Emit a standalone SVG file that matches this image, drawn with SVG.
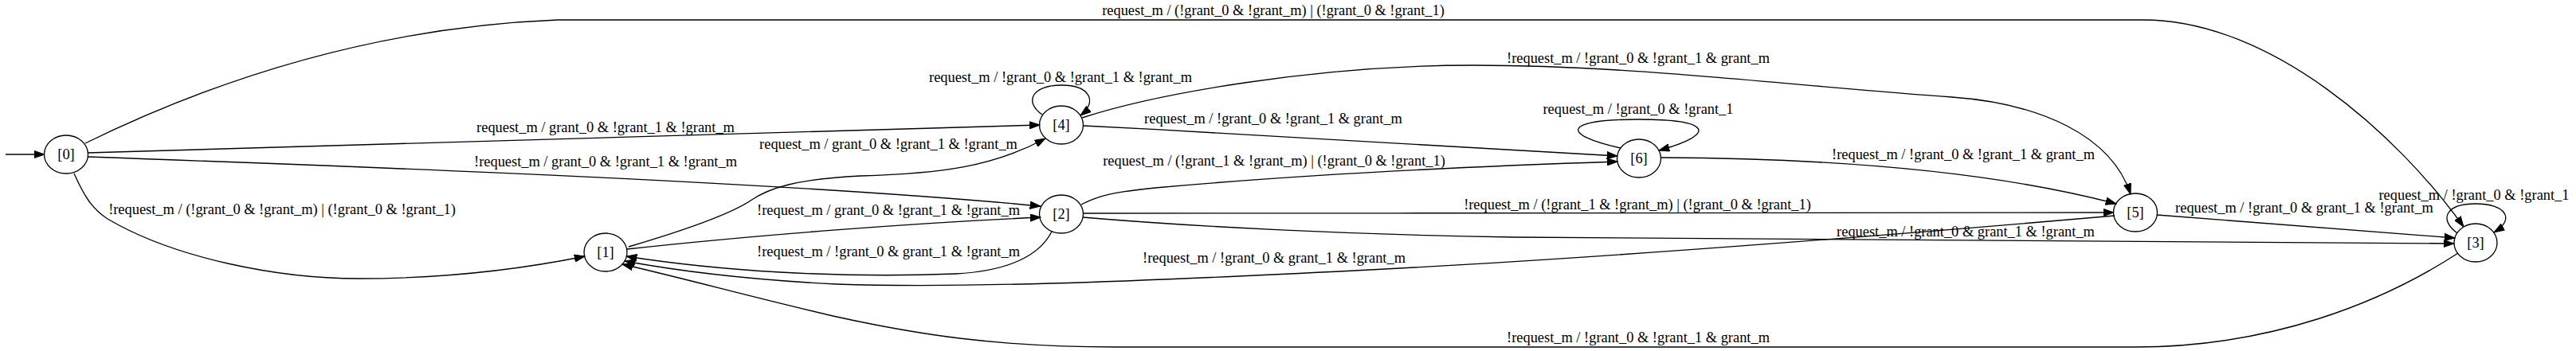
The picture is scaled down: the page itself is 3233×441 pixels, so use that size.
<svg xmlns="http://www.w3.org/2000/svg" width="3233" height="441" viewBox="0 0 3233 441">
<style>
.n ellipse{fill:none;stroke:#000;stroke-width:1.33}
text{font-family:"Liberation Serif","Times New Roman",serif;font-size:18.4px;fill:#000;text-anchor:middle}
.e path{fill:none;stroke:#000;stroke-width:1.33;marker-end:url(#ah)}
</style>
<defs>
<marker id="ah" viewBox="0 0 14 10" refX="13.3" refY="5" markerWidth="14" markerHeight="10" markerUnits="userSpaceOnUse" orient="auto">
<path d="M0,0.33 L13.3,5 L0,9.67 z" fill="#000" stroke="#000" stroke-width="1"/>
</marker>
</defs>
<rect width="3233" height="441" fill="#fff"/>
<g id="connectors" class="e">
<path id="init" d="M7,194 L56,194"/>
<path id="e0-3" d="M107,180 C250,110 450,35 700,25 L2690,25 C2850,25 3010,170 3092,285"/>
<path id="e0-4" d="M110,192 C500,181 900,168 1305,157"/>
<path id="e0-2" d="M110,197 C500,211 1000,230 1306,259"/>
<path id="e0-1" d="M93,218 C105,245 115,262 135,275 C220,325 350,350 450,350 C560,350 660,337 734,322"/>
<path id="e1-4" d="M789,310 C850,292 915,270 942,252 C965,236 1000,225 1080,221 C1180,218 1245,210 1312,174"/>
<path id="e1-2" d="M787,313 C950,295 1150,280 1306,273"/>
<path id="e2-1" d="M1320,291 C1305,320 1270,340 1200,344 C1050,350 900,340 786,322"/>
<path id="e5-1" d="M2654,271 C2400,293 2000,325 1700,340 C1400,355 1200,362 1050,357 C950,352 860,342 784,328"/>
<path id="e3-1" d="M3085,318 C2990,380 2850,436 2680,436 L1400,436 C1250,436 1150,420 1050,398 C950,375 860,350 781,332"/>
<path id="e4-4" d="M1308,144 C1285,128 1295,107 1332,107 C1368,107 1378,128 1356,145"/>
<path id="e4-5" d="M1358,148 C1450,118 1650,82 1850,82 C2050,82 2250,108 2450,122 C2560,130 2650,170 2674,244"/>
<path id="e4-6" d="M1360,158 C1600,170 1850,185 2030,196"/>
<path id="e2-6" d="M1357,257 C1380,245 1400,241 1450,236 C1650,218 1850,209 2030,203"/>
<path id="e6-6" d="M2034,186 C1955,168 1965,150 2056,150 C2147,150 2157,168 2082,189"/>
<path id="e6-5" d="M2085,198 C2300,199 2500,215 2656,256"/>
<path id="e2-5" d="M1360,268 C1800,268 2300,267 2653,267"/>
<path id="e2-3" d="M1359,273 C1500,285 1700,295 1900,298 C2300,304 2700,306 3080,306"/>
<path id="e5-3" d="M2707,270 L3081,299"/>
<path id="e3-3" d="M3084,293 C3060,275 3070,256 3107,256 C3144,256 3158,275 3130,292"/>
</g>
<g id="labels">
<text x="1598" y="19">request_m / (!grant_0 &amp; !grant_m) | (!grant_0 &amp; !grant_1)</text>
<text x="760" y="166">request_m / grant_0 &amp; !grant_1 &amp; !grant_m</text>
<text x="760" y="209">!request_m / grant_0 &amp; !grant_1 &amp; !grant_m</text>
<text x="354" y="269">!request_m / (!grant_0 &amp; !grant_m) | (!grant_0 &amp; !grant_1)</text>
<text x="1115" y="187">request_m / grant_0 &amp; !grant_1 &amp; !grant_m</text>
<text x="1115" y="270">!request_m / grant_0 &amp; !grant_1 &amp; !grant_m</text>
<text x="1115" y="322">!request_m / !grant_0 &amp; grant_1 &amp; !grant_m</text>
<text x="1599" y="330">!request_m / !grant_0 &amp; grant_1 &amp; !grant_m</text>
<text x="2056" y="430">!request_m / !grant_0 &amp; !grant_1 &amp; grant_m</text>
<text x="1331" y="103">request_m / !grant_0 &amp; !grant_1 &amp; !grant_m</text>
<text x="2056" y="79">!request_m / !grant_0 &amp; !grant_1 &amp; grant_m</text>
<text x="1598" y="155">request_m / !grant_0 &amp; !grant_1 &amp; grant_m</text>
<text x="1599" y="208">request_m / (!grant_1 &amp; !grant_m) | (!grant_0 &amp; !grant_1)</text>
<text x="2056" y="143">request_m / !grant_0 &amp; !grant_1</text>
<text x="2464" y="200">!request_m / !grant_0 &amp; !grant_1 &amp; grant_m</text>
<text x="2055" y="263">!request_m / (!grant_1 &amp; !grant_m) | (!grant_0 &amp; !grant_1)</text>
<text x="2467" y="297">request_m / !grant_0 &amp; grant_1 &amp; !grant_m</text>
<text x="2892" y="267">request_m / !grant_0 &amp; grant_1 &amp; !grant_m</text>
<text x="3105" y="251">request_m / !grant_0 &amp; !grant_1</text>
</g>
<g id="n0" class="n"><ellipse cx="83" cy="194" rx="27.5" ry="24"/><text x="83" y="200">[0]</text></g>
<g id="n1" class="n"><ellipse cx="760" cy="317" rx="27" ry="24"/><text x="760" y="323">[1]</text></g>
<g id="n4" class="n"><ellipse cx="1332" cy="157" rx="27.5" ry="24"/><text x="1332" y="163">[4]</text></g>
<g id="n2" class="n"><ellipse cx="1332" cy="269" rx="27.5" ry="24"/><text x="1332" y="275">[2]</text></g>
<g id="n6" class="n"><ellipse cx="2057" cy="199" rx="27.5" ry="24"/><text x="2057" y="205">[6]</text></g>
<g id="n5" class="n"><ellipse cx="2680" cy="267" rx="27.5" ry="24"/><text x="2680" y="273">[5]</text></g>
<g id="n3" class="n"><ellipse cx="3107" cy="305" rx="27" ry="24"/><text x="3107" y="311">[3]</text></g>
</svg>
